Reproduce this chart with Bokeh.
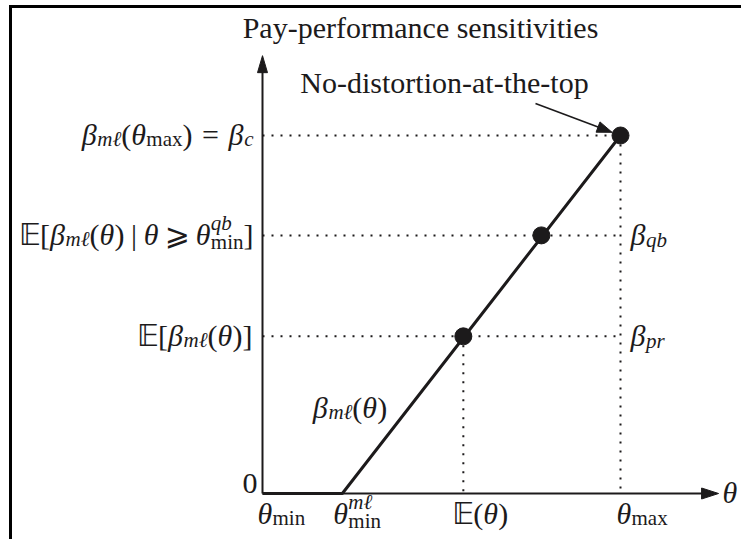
from bokeh.plotting import figure
from bokeh.models import Range1d
from bokeh.core.properties import value
from bokeh.embed import file_html
from bokeh.resources import INLINE

# ---------------- data (theta_max = beta_c = 1) -------------
theta_ticks = [0.0, 0.223, 0.561, 1.0]          # theta_min, theta_min^ml, E(theta), theta_max
line_theta = [0.0, 0.223, 1.0]                   # beta_ml(theta) kinks
line_beta = [0.0, 0.0, 1.0]
point_theta = [0.561, 0.779, 1.0]                # marked points on beta_ml
point_beta = [0.439, 0.721, 1.0]                 # beta_pr, beta_qb, beta_c
beta_levels = [0.439, 0.721, 1.0]
y_axis_top = 1.223
x_axis_end = 1.274
title_text = "Pay-performance sensitivities"
note_text = "No-distortion-at-the-top"

# ---------------- layout ----------------
PX = 358.0            # pixels per data unit (both axes)
W, H = 741, 539
OX, OY = 262.0, 493.0  # origin position inside the figure (from left / from top)
INK = "#1c1a1b"


def d(px):
    return px / PX


LIFT = d(9)           # compensates the renderer's baseline placement

XL, XR = -OX / PX, (W - OX) / PX
YB, YT = -(H - OY) / PX, OY / PX

p = figure(width=W, height=H, x_range=Range1d(XL, XR), y_range=Range1d(YB, YT),
           output_backend="svg", toolbar_location=None, min_border=0,
           x_axis_type=None, y_axis_type=None, title=None)
p.outline_line_color = None
p.background_fill_color = "white"
p.border_fill_color = "white"

# frame border (left and top)
bx = XL + d(10.0)
by = YT - d(6.0)
p.segment(x0=[bx, bx - d(1.5)], y0=[by + d(1.5), by], x1=[bx, XR], y1=[YB, by],
          line_color="black", line_width=3)

# ---------------- dotted guides ----------------
p.segment(x0=[0.0] * len(beta_levels), y0=beta_levels,
          x1=[theta_ticks[3]] * len(beta_levels), y1=beta_levels,
          line_color=INK, line_width=2, line_dash="2 7")
p.segment(x0=[theta_ticks[3], theta_ticks[2]], y0=[beta_levels[2], beta_levels[0]],
          x1=[theta_ticks[3], theta_ticks[2]], y1=[0.0, 0.0],
          line_color=INK, line_width=2, line_dash="2 7")


# ---------------- arrowheads ----------------
def head(tip_x, tip_y, ux, uy, length, half):
    bx_ = tip_x - ux * d(length)
    by_ = tip_y - uy * d(length)
    nx, ny = -uy, ux
    return ([tip_x, bx_ + nx * d(half), bx_ - nx * d(half)],
            [tip_y, by_ + ny * d(half), by_ - ny * d(half)])


# axes
p.segment(x0=[0.0, 0.0], y0=[0.0, 0.0], x1=[0.0, x_axis_end - d(12)], y1=[y_axis_top - d(12), 0.0],
          line_color=INK, line_width=2)
hx, hy = head(0.0, y_axis_top, 0.0, 1.0, 17, 5)
p.patch(hx, hy, color=INK)
hx, hy = head(x_axis_end, 0.0, 1.0, 0.0, 17, 5.5)
p.patch(hx, hy, color=INK)

# beta_ml line and points
p.line(line_theta, line_beta, line_color=INK, line_width=3)
p.scatter(point_theta, point_beta, size=17, color=INK)

# pointer arrow to the top point
sx0 = point_theta[2] + d(-85)
sy0 = point_beta[2] + d(32)
vx, vy = 85.0, -32.0
ln = (vx * vx + vy * vy) ** 0.5
ux, uy = vx / ln, vy / ln
tx = point_theta[2] - ux * d(9)
ty = point_beta[2] - uy * d(9)
p.segment(x0=[sx0], y0=[sy0], x1=[tx - ux * d(10)], y1=[ty - uy * d(10)], line_color=INK, line_width=1.6)
hx, hy = head(tx, ty, ux, uy, 15, 5.5)
p.patch(hx, hy, color=INK)

# ---------------- text ----------------
REG = {'(': 333, ')': 333, '[': 333, ']': 333, '=': 564, '|': 200, '0': 500,
       'a': 444, 'b': 500, 'c': 444, 'i': 278, 'm': 778, 'n': 500, 'p': 500, 'q': 500,
       'r': 333, 'x': 500, 'β': 500, 'θ': 500, 'ℓ': 416}
ITA = {'a': 500, 'b': 500, 'c': 444, 'i': 278, 'm': 722, 'n': 500, 'p': 500, 'q': 500,
       'r': 389, 'x': 444, 'β': 520, 'θ': 500, 'ℓ': 420}
SPC = {'𝔼': 700, '⩾': 838}
FONTS = {'rm': ("Liberation Serif", "normal", REG),
         'it': ("Liberation Serif", "italic", ITA),
         'ds': ("DejaVu Sans", "normal", SPC)}

groups = {}


def seg_w(seg, size):
    if seg[0] == 'gap':
        return seg[1] * size
    t, f, sc, dy = seg
    tab = FONTS[f][2]
    return sum(tab.get(c, 500) for c in t) / 1000.0 * size * sc


def item_w(item, size):
    if item[0] == 'stack':
        return max(sum(seg_w(s, size) for s in item[1]), sum(seg_w(s, size) for s in item[2]))
    return seg_w(item, size)


def put(seg, x, y, size):
    t, f, sc, dy = seg
    font, style, _ = FONTS[f]
    key = (font, style, round(size * sc, 2))
    g = groups.setdefault(key, ([], [], []))
    g[0].append(x)
    g[1].append(y + d(dy * size) + LIFT)
    g[2].append(t)


def place(items, ax, ay, align, size):
    total = sum(item_w(it, size) for it in items)
    cur = {'left': 0.0, 'right': -total, 'center': -total / 2}[align]
    for it in items:
        w = item_w(it, size)
        if it[0] == 'stack':
            for s in it[1] + it[2]:
                put(s, ax + d(cur), ay, size)
        elif it[0] != 'gap':
            put(it, ax + d(cur), ay, size)
        cur += w


def S(t, f='rm', sc=1.0, dy=0.0):
    return (t, f, sc, dy)


def G(em):
    return ('gap', em)


M = 30
SUB = (0.7, -0.16)
sub_ml = S("mℓ", 'it', *SUB)
lab_c = [S("β", 'it'), sub_ml, S("("), S("θ", 'it'), S("max", 'rm', *SUB), S(")"),
         G(0.32), S("="), G(0.32), S("β", 'it'), S("c", 'it', *SUB)]
lab_qb = [S("𝔼", 'ds'), S("["), S("β", 'it'), sub_ml, S("("), S("θ", 'it'), S(")"),
          G(0.22), S("|"), G(0.22), S("θ", 'it'), G(0.2), S("⩾", 'ds'), G(0.2), S("θ", 'it'),
          ('stack', [S("qb", 'it', 0.7, 0.38)], [S("min", 'rm', 0.7, -0.26)]), S("]")]
lab_pr = [S("𝔼", 'ds'), S("["), S("β", 'it'), sub_ml, S("("), S("θ", 'it'), S(")"), S("]")]
mid = -0.27 * M / PX   # baseline shift to centre math on a level

place(lab_c, d(-9), beta_levels[2] + mid, 'right', M)
place(lab_qb, d(-9), beta_levels[1] + mid, 'right', M)
place(lab_pr, d(-10), beta_levels[0] + mid, 'right', M)
place([S("0")], d(-5), d(1), 'right', M)

xl_y = d(-29)
place([S("θ", 'it'), S("min", 'rm', *SUB)], theta_ticks[0] + d(-5), xl_y, 'left', M)
place([S("θ", 'it'), ('stack', [S("mℓ", 'it', 0.7, 0.38)], [S("min", 'rm', 0.7, -0.26)])],
      theta_ticks[1] + d(-9), xl_y, 'left', M)
place([S("𝔼", 'ds'), S("("), S("θ", 'it'), S(")")], theta_ticks[2] + d(-11), xl_y, 'left', M)
place([S("θ", 'it'), S("max", 'rm', *SUB)], theta_ticks[3] + d(-4), xl_y, 'left', M)
place([S("θ", 'it')], x_axis_end + d(4), mid, 'left', M)

place([S("β", 'it'), S("qb", 'it', 0.7, -0.2)], theta_ticks[3] + d(10), beta_levels[1] + mid, 'left', M)
place([S("β", 'it'), S("pr", 'it', 0.7, -0.2)], theta_ticks[3] + d(10), beta_levels[0] + mid, 'left', M)
place([S("β", 'it'), sub_ml, S("("), S("θ", 'it'), S(")")],
      point_theta[0] + d(-76), point_beta[0] + d(-72) + mid, 'right', M)

for (font, style, size), (xs, ys, ts) in groups.items():
    p.text(x=xs, y=ys, text=ts, text_font=value(font), text_font_style=style,
           text_font_size=f"{size}px", text_align="left", text_baseline="alphabetic",
           text_color=INK)

p.text(x=[d(158)], y=[y_axis_top + d(19) + LIFT], text=[title_text], text_font=value("Liberation Serif"),
       text_font_size="30px", text_align="center", text_baseline="alphabetic", text_color=INK)
p.text(x=[d(182)], y=[beta_levels[2] + d(44) + LIFT], text=[note_text], text_font=value("Liberation Serif"),
       text_font_size="30px", text_align="center", text_baseline="alphabetic", text_color=INK)

open("out.html", "w").write(file_html(p, INLINE))
